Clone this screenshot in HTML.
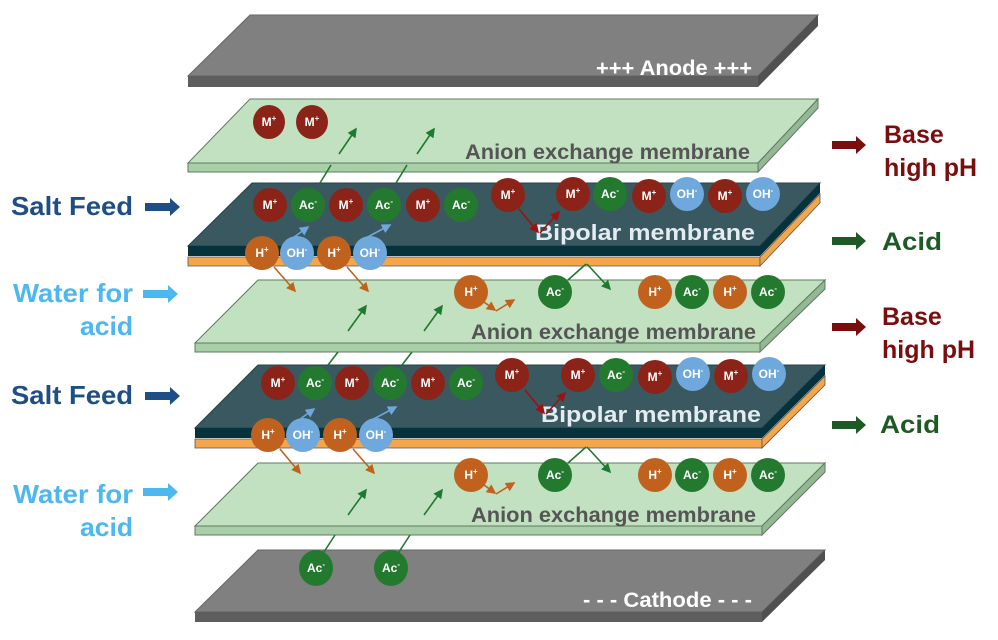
<!DOCTYPE html>
<html><head><meta charset="utf-8"><style>
html,body{margin:0;padding:0;background:#fff;}
svg{display:block;font-family:"Liberation Sans",Arial,sans-serif;}
.c text{fill:#fff;font-weight:bold;font-size:12px;text-anchor:middle;}
</style></head><body>
<svg width="998" height="640" viewBox="0 0 998 640" xmlns="http://www.w3.org/2000/svg">
<defs>
<marker id="ag" markerWidth="6" markerHeight="6" refX="5" refY="3" orient="auto" markerUnits="strokeWidth"><path d="M0,0 L6,3 L0,6 z" fill="#1e7a2e"/></marker>
<marker id="ao" markerWidth="6" markerHeight="6" refX="5" refY="3" orient="auto" markerUnits="strokeWidth"><path d="M0,0 L6,3 L0,6 z" fill="#c0621e"/></marker>
<marker id="ab" markerWidth="6" markerHeight="6" refX="5" refY="3" orient="auto" markerUnits="strokeWidth"><path d="M0,0 L6,3 L0,6 z" fill="#6fa8dc"/></marker>
<marker id="ar" markerWidth="6" markerHeight="6" refX="5" refY="3" orient="auto" markerUnits="strokeWidth"><path d="M0,0 L6,3 L0,6 z" fill="#a01010"/></marker>
</defs>

<!-- Anode -->
<polygon points="250,15 818,15 758,76 188,76" fill="#808080" stroke="#666" />
<polygon points="188,76 758,76 758,87 188,87" fill="#5e5e5e"/>
<polygon points="818,15 818,26 758,87 758,76" fill="#505050"/>
<text x="596" y="75" fill="#fff" font-weight="bold" font-size="21" textLength="156" lengthAdjust="spacingAndGlyphs">+++ Anode +++</text>

<!-- AEM1 -->
<polygon points="250,99 818,99 758,163 188,163" fill="#c1e1c1" stroke="#5f7a5f"/>
<polygon points="188,163 758,163 758,172 188,172" fill="#a8cfa8" stroke="#5f7a5f"/>
<polygon points="818,99 818,108 758,172 758,163" fill="#94b894" stroke="#5f7a5f"/>
<text x="465" y="159" fill="#555" font-weight="bold" font-size="21" textLength="285" lengthAdjust="spacingAndGlyphs">Anion exchange membrane</text>

<!-- Bipolar 1 -->
<polygon points="252,183 820,183 760,246 188,246" fill="#3a5860" stroke="#2a3f44"/>
<polygon points="188,246 760,246 760,256 188,256" fill="#06323b"/>
<polygon points="188,257 760,257 760,266 188,266" fill="#f5a64a" stroke="#555" stroke-width="0.8"/>
<polygon points="820,183 820,193 760,256 760,246" fill="#06323b"/>
<polygon points="820,194 820,203 760,266 760,257" fill="#f5a64a" stroke="#555" stroke-width="0.8"/>
<text x="535" y="240" fill="#e3ecf0" font-weight="bold" font-size="22" textLength="220" lengthAdjust="spacingAndGlyphs">Bipolar membrane</text>

<!-- AEM2 -->
<polygon points="258,280 825,280 760,343 195,343" fill="#c1e1c1" stroke="#5f7a5f"/>
<polygon points="195,343 760,343 760,352 195,352" fill="#a8cfa8" stroke="#5f7a5f"/>
<polygon points="825,280 825,289 760,352 760,343" fill="#94b894" stroke="#5f7a5f"/>
<text x="471" y="339" fill="#555" font-weight="bold" font-size="21" textLength="285" lengthAdjust="spacingAndGlyphs">Anion exchange membrane</text>

<!-- Bipolar 2 -->
<polygon points="258,365 825,365 762,428 195,428" fill="#3a5860" stroke="#2a3f44"/>
<polygon points="195,428 762,428 762,438 195,438" fill="#06323b"/>
<polygon points="195,439 762,439 762,448 195,448" fill="#f5a64a" stroke="#555" stroke-width="0.8"/>
<polygon points="825,365 825,375 762,438 762,428" fill="#06323b"/>
<polygon points="825,376 825,385 762,448 762,439" fill="#f5a64a" stroke="#555" stroke-width="0.8"/>
<text x="541" y="422" fill="#e3ecf0" font-weight="bold" font-size="22" textLength="220" lengthAdjust="spacingAndGlyphs">Bipolar membrane</text>

<!-- AEM3 -->
<polygon points="258,463 825,463 762,526 195,526" fill="#c1e1c1" stroke="#5f7a5f"/>
<polygon points="195,526 762,526 762,535 195,535" fill="#a8cfa8" stroke="#5f7a5f"/>
<polygon points="825,463 825,472 762,535 762,526" fill="#94b894" stroke="#5f7a5f"/>
<text x="471" y="522" fill="#555" font-weight="bold" font-size="21" textLength="285" lengthAdjust="spacingAndGlyphs">Anion exchange membrane</text>

<!-- Cathode -->
<polygon points="258,550 825,550 762,612 195,612" fill="#808080" stroke="#666"/>
<polygon points="195,612 762,612 762,622 195,622" fill="#5e5e5e"/>
<polygon points="825,550 825,560 762,622 762,612" fill="#505050"/>
<text x="583" y="607" fill="#fff" font-weight="bold" font-size="21" textLength="169" lengthAdjust="spacingAndGlyphs">- - - Cathode - - -</text>

<!-- connector lines & arrows -->
<g stroke-width="1.6" fill="none">
<line x1="320" y1="183" x2="331" y2="165" stroke="#1e7a2e"/>
<line x1="396" y1="183" x2="407" y2="165" stroke="#1e7a2e"/>
<line x1="339" y1="154" x2="356" y2="129" stroke="#1e7a2e" marker-end="url(#ag)"/>
<line x1="417" y1="154" x2="434" y2="129" stroke="#1e7a2e" marker-end="url(#ag)"/>
<line x1="290" y1="240" x2="308" y2="227" stroke="#6fa8dc" marker-end="url(#ab)"/>
<line x1="362" y1="240" x2="390" y2="225" stroke="#6fa8dc" marker-end="url(#ab)"/>
<line x1="274" y1="267" x2="295" y2="291" stroke="#c0621e" marker-end="url(#ao)"/>
<line x1="347" y1="267" x2="368" y2="291" stroke="#c0621e" marker-end="url(#ao)"/>
<line x1="348" y1="331" x2="366" y2="306" stroke="#1e7a2e" marker-end="url(#ag)"/>
<line x1="424" y1="331" x2="442" y2="306" stroke="#1e7a2e" marker-end="url(#ag)"/>
<line x1="484" y1="302" x2="495" y2="310" stroke="#c0621e" marker-end="url(#ao)"/>
<line x1="496" y1="311" x2="514" y2="300" stroke="#c0621e" marker-end="url(#ao)"/>
<line x1="519" y1="209" x2="538" y2="232" stroke="#a01010" marker-end="url(#ar)"/>
<line x1="540" y1="233" x2="559" y2="212" stroke="#a01010" marker-end="url(#ar)"/>
<polyline points="568,280 586,264" stroke="#1e7a2e"/>
<line x1="587" y1="264" x2="610" y2="289" stroke="#1e7a2e" marker-end="url(#ag)"/>
<line x1="328" y1="365" x2="338" y2="352" stroke="#1e7a2e"/>
<line x1="402" y1="365" x2="412" y2="352" stroke="#1e7a2e"/>
<line x1="296" y1="422" x2="314" y2="409" stroke="#6fa8dc" marker-end="url(#ab)"/>
<line x1="368" y1="422" x2="396" y2="407" stroke="#6fa8dc" marker-end="url(#ab)"/>
<line x1="280" y1="449" x2="300" y2="473" stroke="#c0621e" marker-end="url(#ao)"/>
<line x1="353" y1="449" x2="374" y2="473" stroke="#c0621e" marker-end="url(#ao)"/>
<line x1="348" y1="515" x2="366" y2="490" stroke="#1e7a2e" marker-end="url(#ag)"/>
<line x1="424" y1="515" x2="442" y2="490" stroke="#1e7a2e" marker-end="url(#ag)"/>
<line x1="484" y1="485" x2="495" y2="493" stroke="#c0621e" marker-end="url(#ao)"/>
<line x1="496" y1="494" x2="514" y2="483" stroke="#c0621e" marker-end="url(#ao)"/>
<line x1="525" y1="390" x2="544" y2="413" stroke="#a01010" marker-end="url(#ar)"/>
<line x1="546" y1="414" x2="565" y2="393" stroke="#a01010" marker-end="url(#ar)"/>
<polyline points="568,463 586,447" stroke="#1e7a2e"/>
<line x1="587" y1="447" x2="610" y2="472" stroke="#1e7a2e" marker-end="url(#ag)"/>
<line x1="322" y1="555" x2="335" y2="535" stroke="#1e7a2e"/>
<line x1="397" y1="555" x2="410" y2="535" stroke="#1e7a2e"/>
</g>

<!-- ions -->
<g class="c">
<ellipse cx="269" cy="122" rx="16" ry="17" fill="#8b2318"/><text x="269" y="126">M<tspan font-size="8" dy="-5">+</tspan></text>
<ellipse cx="312" cy="122" rx="16" ry="17" fill="#8b2318"/><text x="312" y="126">M<tspan font-size="8" dy="-5">+</tspan></text>
<circle cx="270" cy="205" r="17" fill="#8b2318"/><text x="270" y="209">M<tspan font-size="8" dy="-5">+</tspan></text>
<circle cx="308" cy="205" r="17" fill="#237a2f"/><text x="308" y="209">Ac<tspan font-size="8" dy="-5">-</tspan></text>
<circle cx="346" cy="205" r="17" fill="#8b2318"/><text x="346" y="209">M<tspan font-size="8" dy="-5">+</tspan></text>
<circle cx="384" cy="205" r="17" fill="#237a2f"/><text x="384" y="209">Ac<tspan font-size="8" dy="-5">-</tspan></text>
<circle cx="423" cy="205" r="17" fill="#8b2318"/><text x="423" y="209">M<tspan font-size="8" dy="-5">+</tspan></text>
<circle cx="461" cy="205" r="17" fill="#237a2f"/><text x="461" y="209">Ac<tspan font-size="8" dy="-5">-</tspan></text>
<circle cx="508" cy="195" r="17" fill="#8b2318"/><text x="508" y="199">M<tspan font-size="8" dy="-5">+</tspan></text>
<circle cx="573" cy="194" r="17" fill="#8b2318"/><text x="573" y="198">M<tspan font-size="8" dy="-5">+</tspan></text>
<circle cx="610" cy="194" r="17" fill="#237a2f"/><text x="610" y="198">Ac<tspan font-size="8" dy="-5">-</tspan></text>
<circle cx="649" cy="196" r="17" fill="#8b2318"/><text x="649" y="200">M<tspan font-size="8" dy="-5">+</tspan></text>
<circle cx="687" cy="194" r="17" fill="#6fa8dc"/><text x="687" y="198">OH<tspan font-size="8" dy="-5">-</tspan></text>
<circle cx="725" cy="196" r="17" fill="#8b2318"/><text x="725" y="200">M<tspan font-size="8" dy="-5">+</tspan></text>
<circle cx="763" cy="194" r="17" fill="#6fa8dc"/><text x="763" y="198">OH<tspan font-size="8" dy="-5">-</tspan></text>
<circle cx="262" cy="253" r="17" fill="#c0621e"/><text x="262" y="257">H<tspan font-size="8" dy="-5">+</tspan></text>
<circle cx="297" cy="253" r="17" fill="#6fa8dc"/><text x="297" y="257">OH<tspan font-size="8" dy="-5">-</tspan></text>
<circle cx="334" cy="253" r="17" fill="#c0621e"/><text x="334" y="257">H<tspan font-size="8" dy="-5">+</tspan></text>
<circle cx="370" cy="253" r="17" fill="#6fa8dc"/><text x="370" y="257">OH<tspan font-size="8" dy="-5">-</tspan></text>
<circle cx="471" cy="292" r="17" fill="#c0621e"/><text x="471" y="296">H<tspan font-size="8" dy="-5">+</tspan></text>
<circle cx="555" cy="292" r="17" fill="#237a2f"/><text x="555" y="296">Ac<tspan font-size="8" dy="-5">-</tspan></text>
<circle cx="655" cy="292" r="17" fill="#c0621e"/><text x="655" y="296">H<tspan font-size="8" dy="-5">+</tspan></text>
<circle cx="692" cy="292" r="17" fill="#237a2f"/><text x="692" y="296">Ac<tspan font-size="8" dy="-5">-</tspan></text>
<circle cx="730" cy="292" r="17" fill="#c0621e"/><text x="730" y="296">H<tspan font-size="8" dy="-5">+</tspan></text>
<circle cx="768" cy="292" r="17" fill="#237a2f"/><text x="768" y="296">Ac<tspan font-size="8" dy="-5">-</tspan></text>
<circle cx="278" cy="383" r="17" fill="#8b2318"/><text x="278" y="387">M<tspan font-size="8" dy="-5">+</tspan></text>
<circle cx="315" cy="383" r="17" fill="#237a2f"/><text x="315" y="387">Ac<tspan font-size="8" dy="-5">-</tspan></text>
<circle cx="352" cy="383" r="17" fill="#8b2318"/><text x="352" y="387">M<tspan font-size="8" dy="-5">+</tspan></text>
<circle cx="390" cy="383" r="17" fill="#237a2f"/><text x="390" y="387">Ac<tspan font-size="8" dy="-5">-</tspan></text>
<circle cx="428" cy="383" r="17" fill="#8b2318"/><text x="428" y="387">M<tspan font-size="8" dy="-5">+</tspan></text>
<circle cx="466" cy="383" r="17" fill="#237a2f"/><text x="466" y="387">Ac<tspan font-size="8" dy="-5">-</tspan></text>
<circle cx="512" cy="375" r="17" fill="#8b2318"/><text x="512" y="379">M<tspan font-size="8" dy="-5">+</tspan></text>
<circle cx="578" cy="375" r="17" fill="#8b2318"/><text x="578" y="379">M<tspan font-size="8" dy="-5">+</tspan></text>
<circle cx="616" cy="375" r="17" fill="#237a2f"/><text x="616" y="379">Ac<tspan font-size="8" dy="-5">-</tspan></text>
<circle cx="655" cy="377" r="17" fill="#8b2318"/><text x="655" y="381">M<tspan font-size="8" dy="-5">+</tspan></text>
<circle cx="693" cy="374" r="17" fill="#6fa8dc"/><text x="693" y="378">OH<tspan font-size="8" dy="-5">-</tspan></text>
<circle cx="731" cy="376" r="17" fill="#8b2318"/><text x="731" y="380">M<tspan font-size="8" dy="-5">+</tspan></text>
<circle cx="769" cy="374" r="17" fill="#6fa8dc"/><text x="769" y="378">OH<tspan font-size="8" dy="-5">-</tspan></text>
<circle cx="268" cy="435" r="17" fill="#c0621e"/><text x="268" y="439">H<tspan font-size="8" dy="-5">+</tspan></text>
<circle cx="303" cy="435" r="17" fill="#6fa8dc"/><text x="303" y="439">OH<tspan font-size="8" dy="-5">-</tspan></text>
<circle cx="340" cy="435" r="17" fill="#c0621e"/><text x="340" y="439">H<tspan font-size="8" dy="-5">+</tspan></text>
<circle cx="376" cy="435" r="17" fill="#6fa8dc"/><text x="376" y="439">OH<tspan font-size="8" dy="-5">-</tspan></text>
<circle cx="471" cy="475" r="17" fill="#c0621e"/><text x="471" y="479">H<tspan font-size="8" dy="-5">+</tspan></text>
<circle cx="555" cy="475" r="17" fill="#237a2f"/><text x="555" y="479">Ac<tspan font-size="8" dy="-5">-</tspan></text>
<circle cx="655" cy="475" r="17" fill="#c0621e"/><text x="655" y="479">H<tspan font-size="8" dy="-5">+</tspan></text>
<circle cx="692" cy="475" r="17" fill="#237a2f"/><text x="692" y="479">Ac<tspan font-size="8" dy="-5">-</tspan></text>
<circle cx="730" cy="475" r="17" fill="#c0621e"/><text x="730" y="479">H<tspan font-size="8" dy="-5">+</tspan></text>
<circle cx="768" cy="475" r="17" fill="#237a2f"/><text x="768" y="479">Ac<tspan font-size="8" dy="-5">-</tspan></text>
<ellipse cx="316" cy="568" rx="17" ry="18" fill="#237a2f"/><text x="316" y="572">Ac<tspan font-size="8" dy="-5">-</tspan></text>
<ellipse cx="391" cy="568" rx="17" ry="18" fill="#237a2f"/><text x="391" y="572">Ac<tspan font-size="8" dy="-5">-</tspan></text>
</g>

<!-- Left labels -->
<g font-weight="bold" font-size="26">
<text x="11" y="215" fill="#1f4e86" textLength="122" lengthAdjust="spacingAndGlyphs">Salt Feed</text>
<text x="13" y="302" fill="#4db8f0" textLength="120" lengthAdjust="spacingAndGlyphs">Water for</text>
<text x="80" y="335" fill="#4db8f0" textLength="53" lengthAdjust="spacingAndGlyphs">acid</text>
<text x="11" y="404" fill="#1f4e86" textLength="122" lengthAdjust="spacingAndGlyphs">Salt Feed</text>
<text x="13" y="503" fill="#4db8f0" textLength="120" lengthAdjust="spacingAndGlyphs">Water for</text>
<text x="80" y="536" fill="#4db8f0" textLength="53" lengthAdjust="spacingAndGlyphs">acid</text>
</g>
<g>
<polygon points="145,203 170,203 170,198 180,207 170,216 170,211 145,211" fill="#1f4e86"/>
<polygon points="143,290 168,290 168,285 178,294 168,303 168,298 143,298" fill="#4db8f0"/>
<polygon points="145,392 170,392 170,387 180,396 170,405 170,400 145,400" fill="#1f4e86"/>
<polygon points="143,488 168,488 168,483 178,492 168,501 168,496 143,496" fill="#4db8f0"/>
</g>

<!-- Right labels -->
<g>
<polygon points="832,141 856,141 856,136 866,145 856,154 856,149 832,149" fill="#7a0e0e"/>
<polygon points="832,237 856,237 856,232 866,241 856,250 856,245 832,245" fill="#1e5a26"/>
<polygon points="832,323 856,323 856,318 866,327 856,336 856,331 832,331" fill="#7a0e0e"/>
<polygon points="832,421 856,421 856,416 866,425 856,434 856,429 832,429" fill="#1e5a26"/>
</g>
<g font-weight="bold" font-size="25">
<text x="884" y="143" fill="#7a0e0e">Base</text>
<text x="884" y="176" fill="#7a0e0e">high pH</text>
<text x="882" y="250" fill="#1e5a26" textLength="60" lengthAdjust="spacingAndGlyphs">Acid</text>
<text x="882" y="325" fill="#7a0e0e">Base</text>
<text x="882" y="358" fill="#7a0e0e">high pH</text>
<text x="880" y="433" fill="#1e5a26" textLength="60" lengthAdjust="spacingAndGlyphs">Acid</text>
</g>
</svg>
</body></html>
